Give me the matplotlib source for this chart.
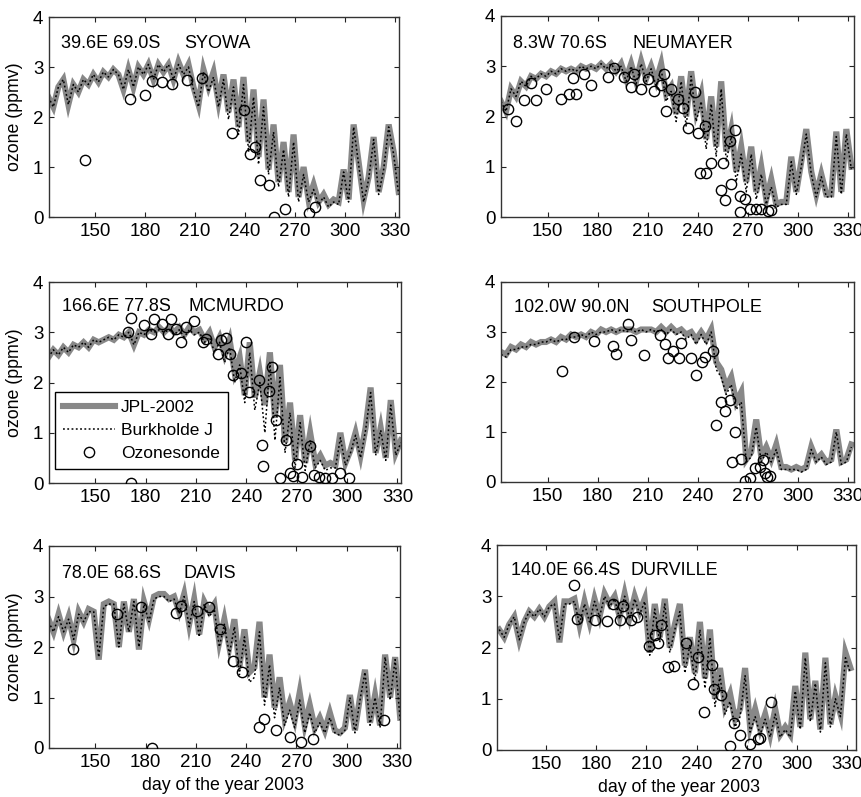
import numpy as np
import matplotlib
matplotlib.use('Agg')
import matplotlib.pyplot as plt

plt.rcParams['font.family'] = ['Liberation Sans', 'DejaVu Sans']
NARROW = ['Liberation Sans Narrow', 'Liberation Sans', 'DejaVu Sans']

# ---------------- data ----------------
days = [122, 125, 128, 131, 134, 137, 140, 143, 146, 149,
        152, 155, 158, 161, 164, 167, 170, 173, 176, 179,
        182, 185, 188, 191, 194, 197, 200, 203, 206, 209,
        212, 215, 218, 221, 224, 227, 230, 233, 236, 239,
        242, 245, 248, 251, 254, 257, 260, 263, 266, 269,
        272, 275, 278, 281, 284, 287, 290, 293, 296, 299,
        302, 305, 308, 311, 314, 317, 320, 323, 326, 329,
        332]

station_names = ["SYOWA", "NEUMAYER", "MCMURDO", "SOUTHPOLE", "DAVIS", "DURVILLE"]
station_coords = ["39.6E 69.0S", "8.3W 70.6S", "166.6E 77.8S", "102.0W 90.0N", "78.0E 68.6S", "140.0E 66.4S"]

jpl_syowa = [2.4, 2.2, 2.6, 2.75, 2.25, 2.65, 2.5, 2.75, 2.65, 2.85,
             2.7, 2.9, 2.8, 2.95, 2.85, 2.55, 2.95, 2.6, 3.0, 2.85,
             3.05, 2.75, 3.05, 2.9, 3.05, 2.75, 3.1, 2.85, 3.05, 2.6,
             2.25, 2.95, 2.6, 2.9, 2.3, 2.85, 2.1, 2.75, 1.8, 2.8,
             1.5, 2.55, 1.2, 2.35, 0.95, 1.85, 0.7, 1.5, 0.5, 1.65,
             0.4, 1.0, 0.35, 0.65, 0.3, 0.45, 0.25, 0.35, 0.3, 0.95,
             0.35, 1.85, 1.1, 0.35, 0.8, 1.6, 0.5, 1.0, 1.85, 1.3,
             0.5]
burk_syowa = [2.4, 2.2, 2.6, 2.75, 2.25, 2.65, 2.5, 2.75, 2.65, 2.85,
              2.7, 2.9, 2.8, 2.95, 2.85, 2.55, 2.95, 2.6, 3.0, 2.85,
              3.05, 2.75, 3.05, 2.9, 3.05, 2.75, 3.05, 2.85, 3.0, 2.55,
              2.2, 2.9, 2.5, 2.8, 2.2, 2.75, 1.95, 2.6, 1.65, 2.65,
              1.3, 2.4, 1.05, 2.2, 0.85, 1.7, 0.6, 1.35, 0.4, 1.5,
              0.3, 0.85, 0.3, 0.55, 0.25, 0.4, 0.2, 0.3, 0.25, 0.9,
              0.3, 1.8, 1.05, 0.3, 0.75, 1.55, 0.45, 0.95, 1.8, 1.25,
              0.45]

jpl_neumayer = [2.3, 2.1, 2.55, 2.4, 2.7, 2.6, 2.8, 2.75, 2.85, 2.8,
                2.9, 2.85, 2.95, 2.9, 2.95, 2.9, 3.0, 2.95, 3.0, 2.95,
                3.05, 2.95, 3.05, 2.9, 3.05, 2.75, 3.05, 2.7, 3.1, 2.75,
                3.0, 2.7, 3.05, 2.45, 2.6, 2.05, 2.8, 2.0, 2.9, 2.1,
                2.45, 1.55, 2.4, 1.4, 2.7, 1.3, 1.75, 0.9, 1.4, 0.7,
                1.4, 0.5, 1.0, 0.35, 0.75, 0.25, 0.3, 0.3, 1.2, 0.5,
                1.1, 1.75, 0.9, 0.45, 0.85, 0.45, 0.45, 1.7, 0.5, 1.75,
                1.0]
burk_neumayer = [2.3, 2.1, 2.55, 2.4, 2.7, 2.6, 2.8, 2.75, 2.85, 2.8,
                 2.9, 2.85, 2.95, 2.9, 2.95, 2.9, 3.0, 2.95, 3.0, 2.95,
                 3.05, 2.95, 3.05, 2.9, 3.0, 2.7, 3.0, 2.65, 3.05, 2.7,
                 2.95, 2.6, 2.95, 2.3, 2.5, 1.9, 2.7, 1.8, 2.8, 1.9,
                 2.3, 1.35, 2.25, 1.2, 2.55, 1.1, 1.6, 0.7, 1.25, 0.5,
                 1.25, 0.35, 0.85, 0.25, 0.6, 0.2, 0.25, 0.25, 1.1, 0.45,
                 1.0, 1.65, 0.85, 0.4, 0.8, 0.4, 0.4, 1.6, 0.45, 1.65,
                 0.95]

jpl_mcmurdo = [2.5, 2.65, 2.55, 2.7, 2.6, 2.75, 2.7, 2.8, 2.7, 2.85,
               2.8, 2.85, 2.9, 2.85, 2.95, 2.9, 3.0, 2.75, 3.0, 2.95,
               3.05, 3.0, 3.1, 3.0, 3.1, 3.0, 3.1, 2.95, 3.1, 3.0,
               3.05, 2.85, 3.0, 2.7, 2.9, 2.55, 2.85, 2.2, 2.5, 1.75,
               2.8, 1.7, 2.2, 1.55, 2.6, 1.3, 2.35, 0.8, 1.6, 0.45,
               1.35, 0.4, 1.0, 0.4, 0.55, 0.35, 0.4, 0.35, 1.0, 0.4,
               0.65, 1.0, 0.55, 1.1, 1.9, 0.6, 1.1, 0.5, 1.65, 0.6,
               0.85]
burk_mcmurdo = [2.5, 2.65, 2.55, 2.7, 2.6, 2.75, 2.7, 2.8, 2.7, 2.85,
                2.8, 2.85, 2.9, 2.85, 2.95, 2.9, 3.0, 2.75, 3.0, 2.95,
                3.05, 3.0, 3.05, 3.0, 3.05, 2.95, 3.05, 2.9, 3.05, 2.95,
                3.0, 2.8, 2.9, 2.6, 2.8, 2.4, 2.7, 2.0, 2.35, 1.6,
                2.6, 1.45, 2.0, 1.0, 2.4, 0.85, 2.1, 0.6, 1.4, 0.3,
                1.2, 0.25, 0.85, 0.3, 0.45, 0.25, 0.3, 0.3, 0.9, 0.35,
                0.6, 0.95, 0.5, 1.05, 1.8, 0.55, 1.05, 0.45, 1.55, 0.55,
                0.8]

jpl_southpole = [2.6, 2.55, 2.7, 2.65, 2.75, 2.7, 2.8, 2.75, 2.8, 2.8,
                 2.85, 2.8, 2.9, 2.85, 2.95, 2.9, 2.95, 2.9, 3.0, 2.95,
                 3.05, 3.0, 3.05, 3.0, 3.05, 3.05, 3.05, 3.0, 3.05, 3.05,
                 3.05, 3.0, 3.1, 3.0, 3.1, 3.0, 3.05, 2.95, 3.0, 2.85,
                 3.0, 2.85, 3.05, 2.4, 2.25, 1.9, 2.1, 1.6, 1.8, 0.45,
                 0.6, 1.25, 0.5, 0.7, 0.45, 0.75, 0.3, 0.3, 0.25, 0.3,
                 0.25, 0.3, 0.7, 0.45, 0.55, 0.4, 0.45, 1.05, 0.4, 0.45,
                 0.75]
burk_southpole = [2.55, 2.5, 2.65, 2.65, 2.7, 2.7, 2.75, 2.75, 2.8, 2.8,
                  2.85, 2.8, 2.85, 2.85, 2.9, 2.9, 2.95, 2.9, 3.0, 2.95,
                  3.0, 3.0, 3.05, 3.0, 3.05, 3.0, 3.05, 3.0, 3.05, 3.0,
                  3.05, 3.0, 3.05, 2.95, 3.05, 2.95, 3.0, 2.85, 2.95, 2.75,
                  2.95, 2.75, 3.0, 2.25, 2.1, 1.75, 1.95, 1.45, 1.6, 0.4,
                  0.5, 1.1, 0.4, 0.6, 0.4, 0.65, 0.25, 0.25, 0.25, 0.25,
                  0.2, 0.25, 0.65, 0.4, 0.5, 0.35, 0.4, 1.0, 0.35, 0.4,
                  0.7]

jpl_davis = [2.55, 2.3, 2.65, 2.3, 2.6, 2.15, 2.7, 2.5, 2.75, 2.7,
             1.75, 2.85, 2.9, 2.85, 2.0, 2.9, 2.3, 2.95, 1.95, 2.9,
             2.55, 3.0, 3.05, 3.05, 2.95, 3.0, 2.7, 3.05, 2.45, 2.95,
             2.25, 2.9, 2.7, 2.85, 2.1, 2.55, 2.0, 2.55, 1.6, 2.35,
             1.5, 1.6, 2.5, 1.0, 1.85, 0.8, 1.4, 0.6, 0.9, 0.55,
             1.1, 0.45, 0.85, 0.4, 0.6, 0.35, 0.7, 0.35, 0.3, 0.4,
             1.05, 0.35, 1.0, 1.55, 0.5, 1.05, 0.45, 1.85, 1.0, 1.8,
             0.6]
burk_davis = [2.5, 2.3, 2.6, 2.3, 2.55, 2.15, 2.65, 2.5, 2.7, 2.7,
              1.8, 2.8, 2.85, 2.85, 2.0, 2.85, 2.3, 2.9, 2.0, 2.85,
              2.5, 2.95, 3.0, 3.0, 2.9, 2.95, 2.65, 3.0, 2.4, 2.9,
              2.2, 2.85, 2.6, 2.75, 2.0, 2.45, 1.85, 2.4, 1.45, 2.2,
              1.3, 1.4, 2.3, 0.85, 1.65, 0.6, 1.2, 0.45, 0.75, 0.4,
              0.95, 0.3, 0.7, 0.3, 0.5, 0.3, 0.6, 0.3, 0.25, 0.35,
              1.0, 0.3, 0.95, 1.5, 0.45, 1.0, 0.4, 1.8, 0.95, 1.75,
              0.55]

jpl_durville = [2.35, 2.2, 2.45, 2.6, 2.15, 2.5, 2.7, 2.6, 2.75, 2.6,
                2.8, 2.9, 2.1, 2.9, 2.9, 2.95, 2.45, 2.9, 2.5, 2.95,
                2.6, 3.05, 2.85, 3.0, 2.6, 3.05, 2.6, 3.0, 2.7, 2.95,
                1.9, 2.85, 2.2, 2.95, 2.0, 2.45, 2.85, 1.65, 2.2, 1.5,
                2.5, 1.4, 2.35, 1.0, 1.6, 0.85, 1.1, 0.6, 0.8, 1.6,
                0.45, 0.8, 0.4, 0.7, 0.3, 0.8, 0.3, 0.45, 0.3, 1.25,
                0.45, 1.9, 0.6, 1.35, 0.4, 1.8, 0.5, 1.05, 0.7, 1.9,
                1.6]
burk_durville = [2.35, 2.2, 2.45, 2.6, 2.15, 2.5, 2.7, 2.6, 2.75, 2.6,
                 2.8, 2.85, 2.15, 2.85, 2.85, 2.9, 2.45, 2.85, 2.5, 2.9,
                 2.6, 3.0, 2.8, 2.95, 2.55, 3.0, 2.55, 2.95, 2.65, 2.9,
                 1.85, 2.75, 2.1, 2.85, 1.9, 2.35, 2.7, 1.5, 2.05, 1.35,
                 2.35, 1.2, 2.2, 0.85, 1.45, 0.7, 0.95, 0.45, 0.65, 1.45,
                 0.35, 0.65, 0.3, 0.6, 0.25, 0.7, 0.25, 0.4, 0.25, 1.15,
                 0.4, 1.8, 0.55, 1.3, 0.35, 1.7, 0.45, 1.0, 0.65, 1.8,
                 1.5]

sonde_days_syowa = [144, 171, 180, 184, 190, 196, 205, 214, 232, 239, 243, 246, 249, 254, 257, 264, 278, 282]
sonde_vals_syowa = [1.14, 2.37, 2.43, 2.72, 2.70, 2.67, 2.75, 2.79, 1.69, 2.15, 1.26, 1.41, 0.74, 0.64, 0.01, 0.16, 0.08, 0.2]

sonde_days_neumayer = [126, 131, 136, 140, 143, 149, 158, 163, 165, 167,
                       172, 176, 186, 190, 196, 200, 202, 206, 210, 214,
                       218, 220, 221, 224, 228, 231, 234, 238, 240, 244,
                       241, 245, 248, 254, 256, 255, 259, 262, 260, 265,
                       265, 268, 271, 275, 278, 282, 284]
sonde_vals_neumayer = [2.14, 1.91, 2.33, 2.66, 2.33, 2.55, 2.35, 2.44, 2.77, 2.44,
                       2.84, 2.62, 2.79, 2.97, 2.79, 2.59, 2.84, 2.54, 2.74, 2.5,
                       2.62, 2.84, 2.11, 2.55, 2.34, 2.17, 1.77, 2.49, 1.67, 1.82,
                       0.88, 0.88, 1.08, 0.54, 0.33, 1.08, 1.51, 1.74, 0.65, 0.09,
                       0.41, 0.35, 0.15, 0.15, 0.16, 0.11, 0.13]

sonde_days_mcmurdo = [171, 169.5, 171, 179, 183, 185, 190, 193, 195, 198,
                      201, 204, 209, 214, 216, 223, 225, 228, 230, 232,
                      236.5, 240, 241.6, 247.6, 249, 249.6, 253.6, 255, 257.6, 263.5,
                      260, 266, 270, 268, 273, 278, 280, 287, 296, 301,
                      283, 291]
sonde_vals_mcmurdo = [0.0, 3.0, 3.29, 3.14, 2.97, 3.27, 3.16, 2.96, 3.27, 3.07,
                      2.81, 3.1, 3.22, 2.81, 2.87, 2.56, 2.84, 2.89, 2.57, 2.14,
                      2.18, 2.81, 1.81, 2.04, 0.75, 0.34, 1.84, 2.3, 1.25, 0.85,
                      0.09, 0.19, 0.38, 0.13, 0.12, 0.73, 0.15, 0.1, 0.19, 0.1,
                      0.12, 0.1]

sonde_days_southpole = [158.6, 165.6, 177.6, 189, 191.2, 198, 200, 208, 217.6, 220.4,
                        222.4, 225, 228.4, 230, 235.6, 239, 242.4, 244.4, 249, 251,
                        253.6, 256, 259, 262.4, 260.4, 266, 268.4, 271, 274, 277,
                        279, 280, 281.6, 283]
sonde_vals_southpole = [2.22, 2.9, 2.82, 2.72, 2.57, 3.16, 2.85, 2.54, 2.94, 2.77,
                        2.49, 2.62, 2.49, 2.78, 2.49, 2.14, 2.41, 2.5, 2.62, 1.14,
                        1.61, 1.43, 1.65, 1.01, 0.41, 0.47, 0.03, 0.08, 0.28, 0.31,
                        0.45, 0.18, 0.11, 0.13]

sonde_days_davis = [136.7, 163, 177.5, 184, 198, 201, 210.8, 218, 224.3, 232.3, 237.8, 247.8, 250.6, 257.8, 266.5, 273, 279.7, 322.3]
sonde_vals_davis = [1.97, 2.66, 2.79, 0.0, 2.67, 2.81, 2.72, 2.8, 2.35, 1.73, 1.5, 0.42, 0.58, 0.36, 0.22, 0.11, 0.17, 0.55]

sonde_days_durville = [166.9, 168.3, 179.3, 186.5, 189.8, 194.4, 195.8, 200.8, 204.4, 211.8,
                       215.1, 216.7, 218.7, 222.7, 226.7, 233.7, 237.6, 240.6, 244.6, 249,
                       250.2, 254.6, 260.2, 262.2, 266.1, 272.1, 276.5, 278, 284.5]
sonde_vals_durville = [3.22, 2.55, 2.53, 2.51, 2.85, 2.54, 2.81, 2.53, 2.59, 2.02,
                       2.25, 2.08, 2.44, 1.62, 1.64, 2.08, 1.28, 1.82, 0.75, 1.66,
                       1.2, 1.07, 0.08, 0.52, 0.29, 0.11, 0.21, 0.23, 0.93]

xticks = [150, 180, 210, 240, 270, 300, 330]
yticks = [0, 1, 2, 3, 4]
legend_labels = ["JPL-2002", "Burkholde J", "Ozonesonde"]
xlabel_text = "day of the year 2003"
ylabel_text = "ozone (ppmv)"

jpl_all = [jpl_syowa, jpl_neumayer, jpl_mcmurdo, jpl_southpole, jpl_davis, jpl_durville]
burk_all = [burk_syowa, burk_neumayer, burk_mcmurdo, burk_southpole, burk_davis, burk_durville]
sonde_d_all = [sonde_days_syowa, sonde_days_neumayer, sonde_days_mcmurdo,
               sonde_days_southpole, sonde_days_davis, sonde_days_durville]
sonde_v_all = [sonde_vals_syowa, sonde_vals_neumayer, sonde_vals_mcmurdo,
               sonde_vals_southpole, sonde_vals_davis, sonde_vals_durville]

# ---------------- layout ----------------
W, H = 862, 797
fig = plt.figure(figsize=(W / 100, H / 100), dpi=100)

# (left px, right px, top px, bottom px)
boxes = [(49, 399, 17, 217), (501, 854, 16, 217),
         (49, 401, 282, 483), (501, 854, 282, 482),
         (49, 400, 546, 748), (497, 856, 545, 750)]
xlims = [(122.4, 332.2), (122.0, 333.6), (122.4, 332.1),
         (122.0, 333.6), (122.3, 331.9), (120.7, 335.3)]
# (coord text x, name text x, y) in axes fraction
text_pos = [(0.034, 0.386, 0.868), (0.033, 0.373, 0.863),
            (0.036, 0.396, 0.877), (0.038, 0.426, 0.872),
            (0.036, 0.384, 0.865), (0.039, 0.372, 0.875)]

gray = '#888888'
tick_fs = 13.5
text_fs = 13
label_fs = 12.8

for i in range(6):
    x0, x1, yt, yb = boxes[i]
    ax = fig.add_axes([x0 / W, 1 - yb / H, (x1 - x0) / W, (yb - yt) / H])
    ax.plot(days, jpl_all[i], color=gray, lw=4.4, solid_joinstyle='miter',
            zorder=1, label=legend_labels[0])
    ax.plot(days, burk_all[i], color='black', lw=1.1, linestyle=(0, (1.2, 1.6)),
            zorder=2, label=legend_labels[1])
    ax.plot(sonde_d_all[i], sonde_v_all[i], linestyle='none', marker='o',
            markersize=7.4, markerfacecolor='none', markeredgecolor='black',
            markeredgewidth=1.0, zorder=3, label=legend_labels[2])
    ax.set_xlim(*xlims[i])
    ax.set_ylim(0, 4)
    ax.set_xticks(xticks)
    ax.set_yticks(yticks)
    ax.tick_params(direction='in', top=True, right=True, length=3.5, width=0.8,
                   pad=4, colors='#222222', labelcolor='black')
    for lab in ax.get_xticklabels() + ax.get_yticklabels():
        lab.set_family(NARROW)
        lab.set_fontsize(tick_fs)
    for sp in ax.spines.values():
        sp.set_linewidth(1.0)
        sp.set_color('#333333')
    cx, nx, ty = text_pos[i]
    ax.text(cx, ty, station_coords[i], transform=ax.transAxes, ha='left',
            va='center', fontsize=text_fs, family=NARROW)
    ax.text(nx, ty, station_names[i], transform=ax.transAxes, ha='left',
            va='center', fontsize=text_fs, family=NARROW)
    if i % 2 == 0:
        fig.text(15 / W, 1 - ((yt + yb) / 2) / H, ylabel_text, rotation=90,
                 ha='center', va='center', fontsize=label_fs)
    if i == 2:
        leg = ax.legend(loc='lower left', bbox_to_anchor=(0.017, 0.07),
                        fontsize=12.5, frameon=True, fancybox=False,
                        edgecolor='black', framealpha=1, handlelength=3.0,
                        handletextpad=0.35, borderpad=0.45, labelspacing=0.45,
                        borderaxespad=0)
        leg.get_frame().set_linewidth(1.0)

fig.text(223 / W, 1 - 786 / H, xlabel_text, ha='center', va='center', fontsize=label_fs)
fig.text(679 / W, 1 - 787 / H, xlabel_text, ha='center', va='center', fontsize=label_fs)

fig.savefig('out.png', dpi=100)
